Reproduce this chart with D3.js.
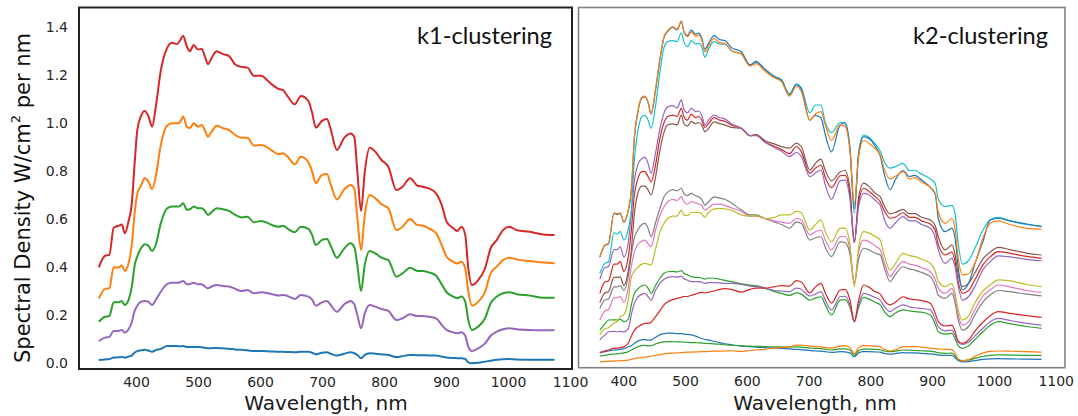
<!DOCTYPE html>
<html><head><meta charset="utf-8">
<script src="https://cdn.jsdelivr.net/npm/d3@7/dist/d3.min.js"></script>
<style>html,body{margin:0;padding:0;background:#fff;}svg{display:block;}</style>
</head><body>
<svg id="chart" width="1078" height="416"></svg>
<script>
// ---------- k1 panel (left) ----------
const k1Wave = [
 340,350,357,364,372,377,382,388,393,398,
 402,408,414,420,426,432,440,450,458,466,
 471,476,482,487,493,500,506,511,516,522,
 530,540,550,560,570,580,590,602,613,620,
 630,637,645,656,666,678,684,690,700,708,
 714,724,736,746,752,757,763,769,777,786,
 796,807,820,830,842,854,862,872,884,893,
 901,912,918,925,931,936,942,952,963,972,
 982,992,1002,1014,1035,1057,1075];
const k1Red = [
 0.40,0.448,0.452,0.565,0.573,0.578,0.542,0.593,0.66,0.84,
 0.97,1.03,1.051,1.03,0.986,1.07,1.22,1.313,1.336,1.33,
 1.345,1.365,1.32,1.30,1.326,1.308,1.31,1.28,1.246,1.272,
 1.30,1.288,1.28,1.245,1.235,1.232,1.198,1.198,1.176,1.16,
 1.143,1.139,1.111,1.079,1.114,1.093,1.045,0.982,1.01,1.018,
 0.975,0.889,0.94,0.958,0.944,0.80,0.635,0.798,0.898,0.882,
 0.847,0.819,0.722,0.736,0.771,0.740,0.736,0.729,0.708,0.66,
 0.59,0.5625,0.551,0.569,0.535,0.396,0.326,0.347,0.396,0.479,
 0.514,0.555,0.569,0.555,0.548,0.537,0.535];
const k1Orange = [
 0.27,0.31,0.313,0.40,0.399,0.407,0.385,0.417,0.49,0.63,
 0.705,0.74,0.771,0.757,0.726,0.78,0.91,0.99,1.0,1.0,
 1.005,1.028,0.985,0.98,1.0,0.986,0.993,0.972,0.944,0.965,
 0.99,0.98,0.972,0.951,0.94,0.94,0.907,0.91,0.898,0.885,
 0.871,0.875,0.86,0.829,0.861,0.838,0.80,0.75,0.785,0.789,
 0.745,0.683,0.725,0.743,0.729,0.604,0.472,0.618,0.701,0.688,
 0.6625,0.646,0.555,0.569,0.601,0.576,0.574,0.5625,0.542,0.493,
 0.444,0.423,0.416,0.423,0.396,0.298,0.24,0.257,0.298,0.375,
 0.403,0.43,0.44,0.433,0.426,0.42,0.417];
const k1Green = [
 0.173,0.194,0.197,0.254,0.254,0.26,0.243,0.264,0.315,0.41,
 0.445,0.479,0.496,0.49,0.468,0.495,0.583,0.645,0.653,0.653,
 0.655,0.667,0.64,0.642,0.653,0.646,0.646,0.635,0.618,0.63,
 0.646,0.642,0.635,0.618,0.608,0.611,0.5875,0.593,0.584,0.575,
 0.569,0.573,0.56,0.546,0.569,0.56,0.535,0.493,0.514,0.518,
 0.49,0.44,0.479,0.50,0.486,0.41,0.301,0.41,0.468,0.458,
 0.44,0.43,0.361,0.375,0.398,0.385,0.385,0.379,0.365,0.329,
 0.296,0.278,0.271,0.278,0.257,0.18,0.139,0.153,0.1875,0.25,
 0.278,0.292,0.296,0.288,0.282,0.273,0.273];
const k1Purple = [
 0.093,0.107,0.11,0.135,0.135,0.139,0.128,0.142,0.17,0.22,
 0.24,0.257,0.26,0.257,0.243,0.265,0.298,0.33,0.336,0.336,
 0.338,0.343,0.329,0.33,0.336,0.329,0.329,0.32,0.3125,0.32,
 0.326,0.322,0.32,0.31,0.301,0.305,0.292,0.296,0.292,0.288,
 0.282,0.285,0.28,0.268,0.285,0.278,0.265,0.24,0.254,0.26,
 0.243,0.215,0.246,0.26,0.246,0.201,0.146,0.208,0.243,0.236,
 0.226,0.218,0.18,0.1875,0.204,0.197,0.197,0.194,0.1875,0.16,
 0.139,0.129,0.125,0.129,0.115,0.069,0.051,0.0625,0.083,0.115,
 0.132,0.142,0.146,0.142,0.139,0.138,0.138];
const k1Blue = [
 0.014,0.016,0.018,0.024,0.025,0.026,0.024,0.028,0.032,0.045,
 0.051,0.054,0.056,0.053,0.048,0.055,0.06,0.072,0.072,0.072,
 0.071,0.072,0.068,0.068,0.068,0.068,0.067,0.065,0.0625,0.063,
 0.064,0.0625,0.061,0.058,0.056,0.054,0.051,0.051,0.05,0.049,
 0.048,0.048,0.047,0.046,0.048,0.048,0.044,0.0375,0.044,0.046,
 0.04,0.032,0.04,0.046,0.042,0.035,0.021,0.035,0.042,0.04,
 0.037,0.035,0.026,0.03,0.035,0.034,0.034,0.033,0.032,0.028,
 0.024,0.022,0.021,0.021,0.018,0.004,0.0,0.002,0.007,0.011,
 0.015,0.017,0.018,0.016,0.015,0.015,0.015];

// ---------- k2 panel (right) ----------
const k2Wave = [
 362,370,376,385,390,395,401,408,413,418,
 423,430,435,440,445,452,459,466,472,480,
 487,494,498,504,510,517,522,527,532,538,
 547,556,564,575,591,605,615,629,645,656,
 669,680,688,702,711,720,727,737,751,759,
 767,774,781,789,797,808,816,822,832,840,
 853,863,872,883,897,905,910,921,932,937,
 942,949,959,969,983,994,1007,1026,1053,1077];
const k2BlueA = [
 0.438,0.487,0.494,0.621,0.617,0.621,0.584,0.632,0.716,0.938,
 1.035,1.102,1.107,1.084,1.035,1.132,1.257,1.355,1.38,1.396,
 1.385,1.42,1.38,1.362,1.385,1.368,1.372,1.352,1.305,1.33,
 1.362,1.345,1.342,1.312,1.295,1.24,1.255,1.222,1.192,1.178,
 1.115,1.158,1.14,1.01,1.03,1.02,0.95,0.878,0.99,1.0,
 0.89,0.64,0.87,0.94,0.935,0.90,0.86,0.79,0.72,0.76,
 0.80,0.775,0.78,0.76,0.73,0.70,0.60,0.545,0.559,0.52,
 0.40,0.302,0.33,0.41,0.51,0.594,0.60,0.59,0.577,0.566];
const k2OrangeA = [
 0.441,0.49,0.497,0.624,0.62,0.624,0.587,0.635,0.719,0.941,
 1.038,1.105,1.11,1.087,1.038,1.135,1.26,1.358,1.383,1.399,
 1.388,1.424,1.378,1.358,1.378,1.36,1.364,1.344,1.295,1.319,
 1.35,1.333,1.33,1.30,1.285,1.235,1.245,1.215,1.185,1.17,
 1.11,1.15,1.13,1.01,1.035,1.045,0.99,0.925,0.99,0.985,
 0.88,0.66,0.86,0.925,0.915,0.89,0.865,0.81,0.765,0.775,
 0.795,0.765,0.77,0.752,0.73,0.705,0.625,0.58,0.60,0.56,
 0.44,0.365,0.37,0.413,0.524,0.58,0.59,0.575,0.559,0.556];
const k2Cyan = [
 0.372,0.413,0.42,0.541,0.535,0.545,0.51,0.556,0.635,0.85,
 0.955,1.024,1.03,1.01,0.976,1.066,1.205,1.313,1.337,1.341,
 1.337,1.374,1.337,1.316,1.341,1.327,1.33,1.316,1.272,1.305,
 1.337,1.327,1.326,1.299,1.285,1.24,1.25,1.222,1.19,1.175,
 1.12,1.16,1.145,1.04,1.073,1.073,1.0,0.958,1.0,0.995,
 0.89,0.62,0.875,0.948,0.94,0.91,0.88,0.84,0.81,0.815,
 0.83,0.80,0.80,0.785,0.765,0.745,0.68,0.65,0.655,0.62,
 0.50,0.41,0.425,0.475,0.555,0.595,0.605,0.59,0.575,0.568];
const k2PurpleB = [
 0.347,0.395,0.40,0.47,0.47,0.482,0.44,0.50,0.62,0.76,
 0.82,0.85,0.855,0.83,0.788,0.87,0.97,1.04,1.065,1.07,
 1.06,1.094,1.055,1.04,1.06,1.045,1.048,1.03,0.99,1.01,
 1.031,1.02,1.015,0.995,0.976,0.945,0.945,0.918,0.895,0.88,
 0.858,0.875,0.86,0.774,0.79,0.802,0.74,0.68,0.757,0.76,
 0.68,0.50,0.65,0.705,0.70,0.675,0.655,0.60,0.559,0.58,
 0.608,0.59,0.59,0.575,0.559,0.52,0.469,0.413,0.434,0.40,
 0.32,0.26,0.275,0.316,0.39,0.42,0.444,0.44,0.43,0.424];
const k2RedB = [
 0.288,0.335,0.34,0.41,0.41,0.42,0.38,0.44,0.55,0.70,
 0.76,0.795,0.795,0.775,0.753,0.82,0.93,1.0,1.025,1.031,
 1.025,1.059,1.025,1.01,1.035,1.02,1.025,1.01,0.98,0.995,
 1.02,1.01,1.005,0.99,0.976,0.945,0.947,0.92,0.90,0.888,
 0.87,0.90,0.88,0.788,0.81,0.823,0.77,0.729,0.778,0.78,
 0.70,0.50,0.67,0.726,0.715,0.69,0.67,0.635,0.601,0.605,
 0.624,0.605,0.605,0.59,0.577,0.55,0.49,0.448,0.46,0.42,
 0.34,0.288,0.30,0.344,0.41,0.44,0.462,0.455,0.442,0.434];
const k2Brown = [
 0.25,0.29,0.295,0.355,0.355,0.357,0.32,0.38,0.47,0.62,
 0.70,0.735,0.735,0.72,0.698,0.77,0.88,0.96,0.99,0.994,
 0.99,1.031,0.995,0.985,1.005,0.995,1.0,0.99,0.962,0.975,
 1.003,0.995,0.99,0.98,0.976,0.945,0.95,0.925,0.91,0.90,
 0.893,0.914,0.90,0.802,0.83,0.847,0.80,0.757,0.794,0.80,
 0.72,0.50,0.69,0.747,0.735,0.705,0.69,0.655,0.619,0.625,
 0.638,0.62,0.62,0.605,0.594,0.57,0.524,0.469,0.49,0.45,
 0.37,0.316,0.33,0.372,0.435,0.46,0.48,0.47,0.456,0.448];
const k2Gray = [
 0.225,0.26,0.265,0.315,0.315,0.32,0.30,0.36,0.45,0.52,
 0.55,0.575,0.58,0.56,0.524,0.58,0.64,0.691,0.71,0.72,
 0.715,0.726,0.705,0.695,0.705,0.695,0.69,0.68,0.656,0.67,
 0.69,0.685,0.68,0.665,0.635,0.615,0.615,0.60,0.585,0.575,
 0.56,0.585,0.58,0.51,0.52,0.524,0.48,0.441,0.503,0.50,
 0.45,0.33,0.43,0.476,0.47,0.455,0.448,0.40,0.337,0.365,
 0.399,0.39,0.385,0.375,0.358,0.32,0.28,0.267,0.288,0.25,
 0.18,0.135,0.15,0.198,0.255,0.281,0.30,0.295,0.285,0.278];
const k2Pink = [
 0.177,0.215,0.22,0.27,0.27,0.275,0.25,0.31,0.40,0.46,
 0.49,0.505,0.51,0.495,0.482,0.55,0.61,0.649,0.67,0.68,
 0.675,0.691,0.67,0.66,0.67,0.665,0.66,0.655,0.635,0.645,
 0.66,0.66,0.655,0.645,0.63,0.61,0.61,0.60,0.59,0.585,
 0.58,0.60,0.595,0.531,0.545,0.552,0.51,0.469,0.524,0.525,
 0.47,0.33,0.46,0.51,0.505,0.485,0.469,0.42,0.358,0.385,
 0.42,0.41,0.406,0.395,0.378,0.345,0.309,0.288,0.309,0.27,
 0.20,0.156,0.17,0.219,0.28,0.302,0.323,0.315,0.30,0.292];
const k2Olive = [
 0.115,0.14,0.145,0.165,0.17,0.19,0.20,0.26,0.357,0.38,
 0.395,0.41,0.413,0.41,0.406,0.47,0.54,0.58,0.60,0.61,
 0.61,0.635,0.615,0.612,0.625,0.625,0.625,0.62,0.605,0.625,
 0.64,0.642,0.64,0.635,0.615,0.61,0.612,0.60,0.605,0.615,
 0.615,0.63,0.625,0.552,0.575,0.594,0.545,0.503,0.559,0.56,
 0.49,0.316,0.48,0.545,0.54,0.525,0.51,0.45,0.385,0.41,
 0.455,0.445,0.441,0.43,0.413,0.38,0.337,0.316,0.33,0.29,
 0.22,0.177,0.195,0.247,0.30,0.323,0.344,0.34,0.325,0.316];
const k2GreenD = [
 0.135,0.16,0.177,0.178,0.177,0.18,0.17,0.18,0.24,0.288,
 0.305,0.32,0.323,0.31,0.288,0.32,0.35,0.372,0.378,0.38,
 0.378,0.383,0.372,0.365,0.358,0.355,0.355,0.352,0.348,0.352,
 0.351,0.347,0.342,0.337,0.328,0.322,0.32,0.31,0.295,0.288,
 0.28,0.29,0.285,0.26,0.268,0.274,0.24,0.198,0.26,0.262,
 0.23,0.17,0.23,0.271,0.265,0.25,0.24,0.215,0.191,0.205,
 0.219,0.215,0.212,0.21,0.198,0.16,0.128,0.118,0.121,0.10,
 0.07,0.059,0.07,0.095,0.13,0.155,0.17,0.162,0.15,0.142];
const k2PurpleD = [
 0.094,0.115,0.128,0.13,0.128,0.13,0.128,0.14,0.20,0.247,
 0.27,0.285,0.288,0.275,0.26,0.30,0.33,0.347,0.355,0.358,
 0.356,0.36,0.35,0.343,0.337,0.337,0.337,0.335,0.33,0.333,
 0.333,0.332,0.33,0.33,0.325,0.318,0.316,0.31,0.30,0.298,
 0.295,0.31,0.305,0.277,0.285,0.295,0.26,0.219,0.274,0.276,
 0.24,0.17,0.24,0.288,0.283,0.27,0.26,0.235,0.212,0.225,
 0.24,0.232,0.228,0.225,0.219,0.18,0.149,0.132,0.135,0.115,
 0.085,0.075,0.085,0.11,0.145,0.17,0.184,0.175,0.163,0.156];
const k2RedD = [
 0.041,0.048,0.052,0.059,0.06,0.062,0.066,0.08,0.11,0.135,
 0.148,0.158,0.163,0.163,0.168,0.19,0.215,0.24,0.253,0.262,
 0.267,0.272,0.275,0.275,0.28,0.285,0.29,0.292,0.29,0.293,
 0.298,0.305,0.308,0.305,0.293,0.305,0.31,0.31,0.316,0.32,
 0.318,0.341,0.335,0.29,0.315,0.33,0.29,0.247,0.302,0.305,
 0.26,0.17,0.26,0.323,0.315,0.295,0.285,0.26,0.24,0.25,
 0.274,0.265,0.262,0.258,0.247,0.205,0.17,0.152,0.156,0.13,
 0.09,0.08,0.094,0.13,0.17,0.195,0.212,0.205,0.195,0.188];
const k2BlueE = [
 0.041,0.045,0.048,0.052,0.053,0.055,0.058,0.065,0.07,0.08,
 0.088,0.094,0.095,0.093,0.094,0.105,0.115,0.12,0.122,0.122,
 0.12,0.12,0.118,0.117,0.115,0.11,0.105,0.10,0.097,0.093,
 0.088,0.083,0.078,0.074,0.068,0.066,0.064,0.062,0.06,0.059,
 0.057,0.055,0.054,0.05,0.048,0.047,0.045,0.042,0.045,0.044,
 0.04,0.024,0.04,0.045,0.045,0.044,0.043,0.038,0.035,0.037,
 0.041,0.04,0.04,0.038,0.036,0.034,0.031,0.03,0.03,0.02,
 0.008,0.003,0.004,0.008,0.013,0.015,0.016,0.015,0.014,0.013];
const k2GreenE = [
 0.027,0.03,0.033,0.035,0.036,0.038,0.04,0.045,0.052,0.058,
 0.065,0.07,0.071,0.069,0.07,0.077,0.083,0.086,0.087,0.087,
 0.086,0.086,0.085,0.084,0.083,0.083,0.082,0.081,0.08,0.079,
 0.078,0.076,0.074,0.072,0.069,0.068,0.067,0.066,0.065,0.065,
 0.064,0.065,0.064,0.06,0.059,0.058,0.055,0.052,0.057,0.057,
 0.052,0.031,0.05,0.056,0.056,0.055,0.053,0.048,0.045,0.047,
 0.052,0.051,0.05,0.049,0.047,0.044,0.04,0.038,0.039,0.028,
 0.014,0.008,0.01,0.017,0.026,0.03,0.032,0.031,0.03,0.03];
const k2OrangeE = [
 0.003,0.004,0.005,0.006,0.007,0.008,0.008,0.01,0.013,0.016,
 0.019,0.021,0.022,0.024,0.026,0.03,0.033,0.036,0.038,0.039,
 0.04,0.041,0.042,0.043,0.043,0.044,0.044,0.045,0.045,0.046,
 0.047,0.047,0.048,0.049,0.046,0.05,0.052,0.055,0.06,0.062,
 0.065,0.072,0.073,0.068,0.066,0.065,0.062,0.06,0.068,0.07,
 0.062,0.036,0.062,0.07,0.07,0.068,0.066,0.055,0.048,0.052,
 0.065,0.066,0.066,0.064,0.06,0.058,0.056,0.055,0.054,0.04,
 0.015,0.007,0.012,0.025,0.04,0.046,0.048,0.047,0.045,0.043];

const xTicks = [400, 500, 600, 700, 800, 900, 1000, 1100];
const yTicks = [0.0, 0.2, 0.4, 0.6, 0.8, 1.0, 1.2, 1.4];
const yLabelParts = ["Spectral Density W/cm", "2", " per nm"];
const xLabel = "Wavelength, nm";
const titles = ["k1-clustering", "k2-clustering"];

const k1Series = [
  {name: "blue", values: k1Blue, color: "#1f77b4"},
  {name: "purple", values: k1Purple, color: "#9467bd"},
  {name: "green", values: k1Green, color: "#2ca02c"},
  {name: "orange", values: k1Orange, color: "#ff7f0e"},
  {name: "red", values: k1Red, color: "#d62728"}
];
const k2Series = [
  {values: k2BlueE, color: "#1f77b4"},
  {values: k2GreenE, color: "#2ca02c"},
  {values: k2OrangeE, color: "#ff7f0e"},
  {values: k2GreenD, color: "#2ca02c"},
  {values: k2PurpleD, color: "#9467bd"},
  {values: k2RedD, color: "#d62728"},
  {values: k2Gray, color: "#7f7f7f"},
  {values: k2Pink, color: "#e377c2"},
  {values: k2Olive, color: "#bcbd22"},
  {values: k2Brown, color: "#8c564b"},
  {values: k2RedB, color: "#d62728"},
  {values: k2PurpleB, color: "#9467bd"},
  {values: k2Cyan, color: "#17becf"},
  {values: k2BlueA, color: "#1f77b4"},
  {values: k2OrangeA, color: "#ff7f0e"}
];
k1Series.forEach((s,i) => { if (s.values.length !== k1Wave.length) throw new Error("k1 len " + i + " " + s.values.length); });
k2Series.forEach((s,i) => { if (s.values.length !== k2Wave.length) throw new Error("k2 len " + i + " " + s.values.length); });

const svg = d3.select("#chart");
svg.append("rect").attr("width", 1078).attr("height", 416).attr("fill", "#ffffff");

const FONT = "'DejaVu Sans', sans-serif";

function panel(cfg) {
  const x = d3.scaleLinear().domain([400, 1100]).range(cfg.xr);
  const y = d3.scaleLinear().domain([0, 1.4]).range(cfg.yr);
  const g = svg.append("g");
  const line = d3.line().x((d) => x(d[0])).y((d) => y(d[1])).curve(d3.curveMonotoneX);
  cfg.series.forEach(s => {
    g.append("path")
      .datum(d3.zip(cfg.wave, s.values))
      .attr("d", line)
      .attr("fill", "none")
      .attr("stroke", s.color)
      .attr("stroke-width", cfg.lw)
      .attr("stroke-linejoin", "round");
  });
  g.append("rect")
    .attr("x", cfg.frame[0]).attr("y", cfg.frame[1])
    .attr("width", cfg.frame[2] - cfg.frame[0]).attr("height", cfg.frame[3] - cfg.frame[1])
    .attr("fill", "none").attr("stroke", cfg.frameColor).attr("stroke-width", cfg.frameW);
  const xa = g.append("g").attr("transform", `translate(0,${cfg.frame[3]})`)
    .call(d3.axisBottom(x).tickValues(xTicks).tickSize(0).tickPadding(8).tickFormat(d3.format("d")));
  xa.select(".domain").remove();
  xa.selectAll("text").attr("font-family", FONT).attr("font-size", 14).attr("fill", "#262626");
  g.append("text").attr("x", cfg.xLabelX).attr("y", 410).attr("text-anchor", "middle")
    .attr("font-family", FONT).attr("font-size", 20).attr("fill", "#1a1a1a").text(xLabel);
  if (cfg.yAxis) {
    const ya = g.append("g").attr("transform", `translate(${cfg.frame[0]},0)`)
      .call(d3.axisLeft(y).tickValues(yTicks).tickSize(0).tickPadding(11).tickFormat(d3.format(".1f")));
    ya.select(".domain").remove();
    ya.selectAll("text").attr("font-family", FONT).attr("font-size", 14).attr("fill", "#262626");
  }
  g.append("text").attr("x", cfg.titleX).attr("y", 44)
    .attr("font-family", "Lato, 'Open Sans', sans-serif").attr("font-size", 23)
    .attr("textLength", 135).attr("lengthAdjust", "spacingAndGlyphs")
    .attr("fill", "#111").text(cfg.title);
}

panel({wave: k1Wave, series: k1Series, xr: [136, 570], yr: [363.3, 27.3], lw: 2,
  frame: [79, 7.5, 572, 369], frameColor: "#222", frameW: 2, yAxis: true,
  xLabelX: 326, title: titles[0], titleX: 417});
panel({wave: k2Wave, series: k2Series, xr: [623.3, 1055.7], yr: [362.5, 26.5], lw: 1.2,
  frame: [578.5, 7.5, 1065, 367.7], frameColor: "#808080", frameW: 1.6, yAxis: false,
  xLabelX: 815, title: titles[1], titleX: 913});

const yl = svg.append("text")
  .attr("transform", "translate(23,198) rotate(-90)")
  .attr("text-anchor", "middle").attr("dominant-baseline", "central")
  .attr("font-family", FONT).attr("font-size", 21).attr("fill", "#111");
yl.append("tspan").text(yLabelParts[0]);
yl.append("tspan").attr("font-size", 13).attr("dy", -8).text(yLabelParts[1]);
yl.append("tspan").attr("dy", 8).text(yLabelParts[2]);
</script>
</body></html>
